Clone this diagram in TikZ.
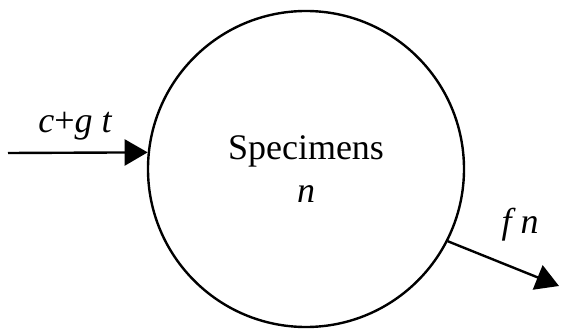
\documentclass[tikz,border=0pt]{standalone}
\usepackage{fontspec}
\setmainfont{Liberation Serif}
\usetikzlibrary{positioning, calc}
\usetikzlibrary{arrows.meta}

\begin{document}
\begin{tikzpicture}[x=1pt, y=-1pt, every node/.style={font=\fontsize{36}{43}\selectfont, inner sep=0pt}, flow/.style={line width=2.4pt, -{Triangle[length=23pt, width=26pt]}}]

    % Frame
    \useasboundingbox (0,0) rectangle (563,329);

    % Central node
    \node[circle, draw, line width=2.4pt, minimum size=316pt, align=center] (S) at (306,169) {Specimens\\\itshape n};

    % Free ends of the flows
    \coordinate (in) at (8,153);
    \coordinate (out) at (559,286);

    % Draw flows
    \draw[flow] (in) -- (S.174);
    \draw[flow] (S.-27) -- (out);

    % Flow labels
    \node[anchor=base] (g) at (75,132) {\itshape c\upshape+\itshape g t};
    \node[anchor=base] (f) at (520,233) {\itshape f n};

\end{tikzpicture}
\end{document}
